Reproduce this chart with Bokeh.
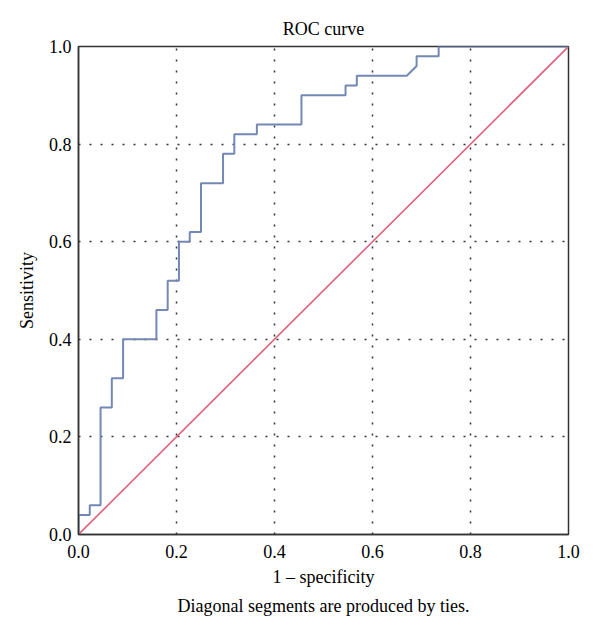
from bokeh.plotting import figure
from bokeh.models import Range1d, FixedTicker, Title, NumeralTickFormatter
from bokeh.embed import file_html
from bokeh.resources import INLINE

# ROC curve points (1 - specificity, sensitivity)
fpr = [0.0, 0.0, 0.023, 0.023, 0.045, 0.045, 0.068, 0.068, 0.091, 0.091,
       0.159, 0.159, 0.182, 0.182, 0.205, 0.205, 0.227, 0.227, 0.25, 0.25,
       0.295, 0.295, 0.318, 0.318, 0.364, 0.364, 0.455, 0.455, 0.545, 0.545,
       0.568, 0.568, 0.67, 0.69, 0.69, 0.735, 0.735, 1.0]
tpr = [0.0, 0.04, 0.04, 0.06, 0.06, 0.26, 0.26, 0.32, 0.32, 0.40,
       0.40, 0.46, 0.46, 0.52, 0.52, 0.60, 0.60, 0.62, 0.62, 0.72,
       0.72, 0.78, 0.78, 0.82, 0.82, 0.84, 0.84, 0.90, 0.90, 0.92,
       0.92, 0.94, 0.94, 0.96, 0.98, 0.98, 1.0, 1.0]
ref_x = [0.0, 1.0]
ref_y = [0.0, 1.0]
ticks = [0.0, 0.2, 0.4, 0.6, 0.8, 1.0]

FONT = "Liberation Serif"
FS = "18px"

p = figure(width=600, height=641, output_backend="svg", toolbar_location=None,
           x_range=Range1d(0, 1), y_range=Range1d(0, 1),
           min_border_left=78, min_border_right=32, min_border_top=46,
           min_border_bottom=107)
p.title.text = "ROC curve"
p.title.align = "center"
p.title.text_font = FONT
p.title.text_font_size = FS
p.title.text_font_style = "normal"
p.title.text_color = "black"
p.title.standoff = 15

cap = Title(text="Diagonal segments are produced by ties.", align="center",
            text_font=FONT, text_font_size=FS, text_font_style="normal",
            text_color="black", standoff=8)
p.add_layout(cap, "below")

for ax in (p.xaxis, p.yaxis):
    ax.ticker = FixedTicker(ticks=ticks)
    ax.formatter = NumeralTickFormatter(format="0.0")
    ax.major_tick_in = 0
    ax.major_tick_out = 0
    ax.minor_tick_in = 0
    ax.minor_tick_out = 0
    ax.major_label_text_font = FONT
    ax.major_label_text_font_size = FS
    ax.major_label_text_color = "black"
    ax.axis_label_text_font = FONT
    ax.axis_label_text_font_size = FS
    ax.axis_label_text_font_style = "normal"
    ax.axis_label_text_color = "black"
    ax.axis_line_color = "#333333"
    ax.axis_line_width = 1.5

p.xaxis.axis_label = "1 \u2013 specificity"
p.yaxis.axis_label = "Sensitivity"
p.xaxis.major_label_standoff = 10
p.yaxis.major_label_standoff = 7
p.xaxis.axis_label_standoff = 6
p.yaxis.axis_label_standoff = 9

p.outline_line_color = "#333333"
p.outline_line_width = 1.5

p.grid.ticker = FixedTicker(ticks=[0.2, 0.4, 0.6, 0.8])
p.grid.grid_line_color = "#333333"
p.grid.grid_line_width = 1.5
p.grid.grid_line_dash = "2 9"

p.line(ref_x, ref_y, line_color="#E0607E", line_width=1.6)
p.line(fpr, tpr, line_color="#7388B4", line_width=2)

open("out.html", "w").write(file_html(p, INLINE))
